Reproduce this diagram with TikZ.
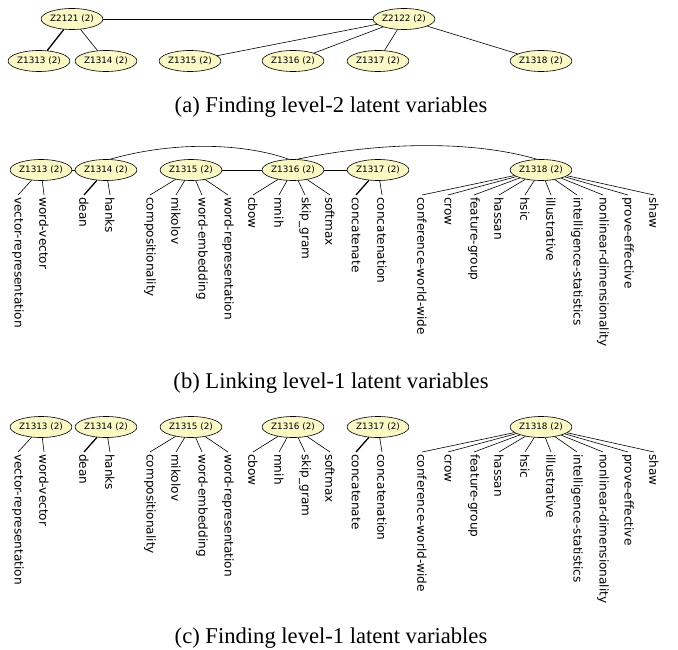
\documentclass[tikz,border=0pt]{standalone}
\usepackage{fontspec}
\setmainfont{Liberation Serif}
\newfontfamily\lvfont{DejaVu Sans}
\usetikzlibrary{shapes.geometric}
\definecolor{latentfill}{RGB}{250,248,196}

\begin{document}
\begin{tikzpicture}[x=1pt,y=-1pt,
  latent/.style={ellipse, draw, line width=0.6pt, fill=latentfill, minimum width=58pt, minimum height=21pt, inner sep=0pt, font=\lvfont\fontsize{8.8}{9}\selectfont},
  word/.style={rotate=-90, anchor=west, inner sep=2pt, font=\lvfont\fontsize{12.1}{13}\selectfont},
  link/.style={line width=0.6pt},
  strong/.style={line width=1.3pt},
  caption/.style={anchor=base, font=\fontsize{22.6}{26}\selectfont}]
  \useasboundingbox (0,0) rectangle (678,650);

  % (a) level-2
  \node[latent] (a2121) at (72,19) {Z2121 (2)};
  \node[latent] (a2122) at (404,19) {Z2122 (2)};
  \node[latent] (a1313) at (39,61) {Z1313 (2)};
  \node[latent] (a1314) at (106,61) {Z1314 (2)};
  \node[latent] (a1315) at (190,61) {Z1315 (2)};
  \node[latent] (a1316) at (293,61) {Z1316 (2)};
  \node[latent] (a1317) at (378,61) {Z1317 (2)};
  \node[latent] (a1318) at (541,61) {Z1318 (2)};
  \draw[link] (a2121) -- (a2122);
  \draw[strong] (a2121) -- (a1313);
  \draw[link] (a2121) -- (a1314);
  \draw[link] (a2122) -- (a1315);
  \draw[link] (a2122) -- (a1316);
  \draw[link] (a2122) -- (a1317);
  \draw[link] (a2122) -- (a1318);
  \node[caption] (capa) at (331,113) {(a) Finding level-2 latent variables};

  % (b) and (c) level-1
  \foreach \off/\p in {0/b,257/c} {
    \node[latent] (\p1313) at (41,170+\off) {Z1313 (2)};
    \node[latent] (\p1314) at (106,170+\off) {Z1314 (2)};
    \node[latent] (\p1315) at (191,170+\off) {Z1315 (2)};
    \node[latent] (\p1316) at (293,170+\off) {Z1316 (2)};
    \node[latent] (\p1317) at (378,170+\off) {Z1317 (2)};
    \node[latent] (\p1318) at (541,170+\off) {Z1318 (2)};
    \foreach \t/\x/\w/\s in {1313/18/vector-representation/link, 1313/44/word-vector/link,
        1314/84/dean/strong, 1314/110/hanks/link,
        1315/150/compositionality/link, 1315/176/mikolov/link, 1315/202/word-embedding/link, 1315/228/word-representation/link,
        1316/253/cbow/link, 1316/279/mnih/link, 1316/305/skip\_gram/link, 1316/330/softmax/link,
        1317/356/concatenate/strong, 1317/382/concatenation/link,
        1318/422/conference-world-wide/link, 1318/448/crow/link, 1318/474/feature-group/link, 1318/499/hassan/link,
        1318/525/hsic/link, 1318/551/illustrative/link, 1318/577/intelligence-statistics/link,
        1318/603/nonlinear-dimensionality/link, 1318/628/prove-effective/link, 1318/654/shaw/link} {
      \node[word] (\p w\x) at (\x,195+\off) {\w};
      \draw[\s] (\p\t) -- (\p w\x.west);
    }
  }
  \draw[link] (b1313) -- (b1314);
  \draw[link] (b1315) -- (b1316);
  \draw[link] (b1316) -- (b1317);
  \draw[link] (b1314.70) .. controls (170,142) and (240,142) .. (b1316.110);
  \draw[link] (b1316.70) .. controls (385,141) and (475,141) .. (b1318.110);
  \node[caption] (capb) at (331,388) {(b) Linking level-1 latent variables};
  \node[caption] (capc) at (331,643) {(c) Finding level-1 latent variables};
\end{tikzpicture}
\end{document}
